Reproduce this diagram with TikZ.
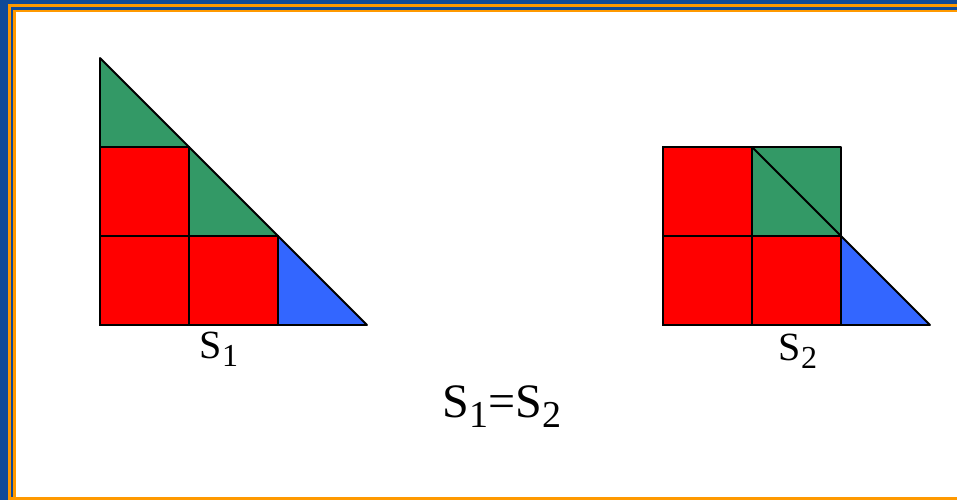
\documentclass[tikz,border=0pt]{standalone}
\usepackage{fontspec}
\setmainfont{Liberation Serif}
\definecolor{frameblue}{HTML}{104A98}
\definecolor{frameorange}{HTML}{FF9900}
\definecolor{piecered}{HTML}{FF0000}
\definecolor{piecegreen}{HTML}{339966}
\definecolor{pieceblue}{HTML}{3366FF}
% lowered subscript at a given size
\newcommand{\lowsub}[3]{\raisebox{-#3pt}{\fontsize{#2}{#2}\selectfont #1}}

\begin{document}
\begin{tikzpicture}[x=1pt,y=-1pt,
  sq/.style={draw=black,line width=1.8pt,fill=piecered},
  tri/.style={draw=black,line width=1.8pt,line join=round},
  lab/.style={anchor=base,inner sep=0pt,font=\fontsize{40}{44}\selectfont},
  eq/.style={anchor=base,inner sep=0pt,font=\fontsize{48}{54}\selectfont}
]
\useasboundingbox (0,0) rectangle (957,500);
% frame
\fill[frameblue] (0,0) rectangle (957,500);
\fill[frameorange] (8,4) rectangle (957,500);
\fill[frameblue] (11,7) rectangle (957,497);
\fill[frameorange] (13,10) rectangle (957,500);
\fill[white] (16,12) rectangle (957,497);

% left figure: the triangle
\draw[tri,fill=piecegreen] (100,58) -- (278,236) -- (189,236) -- (189,147)
  -- (100,147) -- cycle;
\draw[tri,fill=pieceblue] (278,236) -- (367,325) -- (278,325) -- cycle;
\foreach \x/\y in {100/147,100/236,189/236}{
  \draw[sq] (\x,\y) rectangle ++(89,89);
}
\node[lab] (s1) at (219,358) {S\lowsub{1}{32}{8}};

% right figure: squares rearranged
\draw[tri,fill=piecegreen] (752,147) rectangle (841,236);
\draw[tri] (752,147) -- (841,236);
\draw[tri,fill=pieceblue] (841,236) -- (930,325) -- (841,325) -- cycle;
\foreach \x/\y in {663/147,663/236,752/236}{
  \draw[sq] (\x,\y) rectangle ++(89,89);
}
\node[lab] (s2) at (798,360) {S\lowsub{2}{32}{8}};

\node[eq] (same) at (502,417) {S\lowsub{1}{38}{10}=S\lowsub{2}{38}{10}};
\end{tikzpicture}
\end{document}
